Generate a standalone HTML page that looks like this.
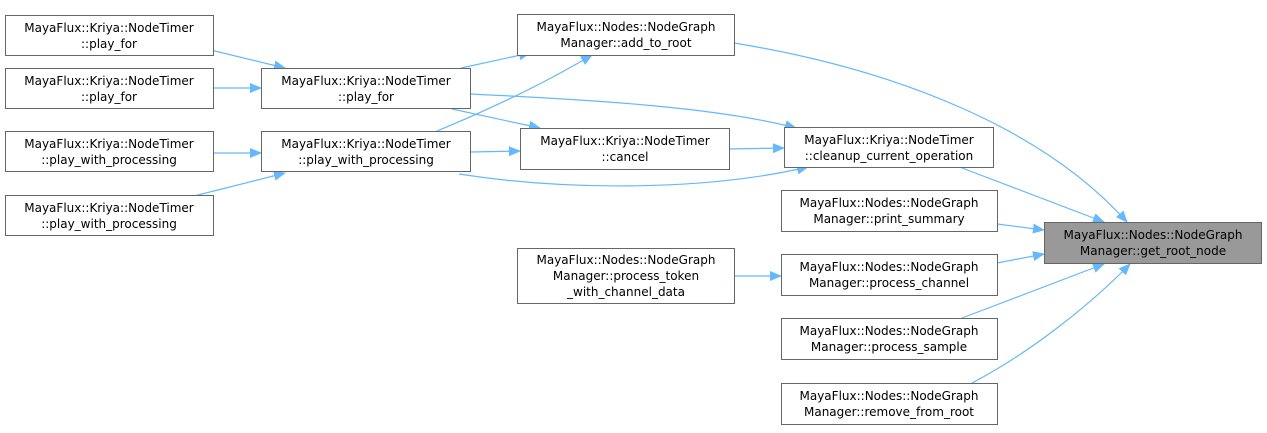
<!DOCTYPE html>
<html><head><meta charset="utf-8"><style>
html,body{margin:0;padding:0;background:#fff;}
svg text{font-family:"DejaVu Sans","Liberation Sans",sans-serif;font-size:12px;fill:#000;text-anchor:middle;}
</style></head><body>
<svg width="1267" height="428" viewBox="0 0 1267 428" xmlns="http://www.w3.org/2000/svg">
<defs>
<marker id="a" markerWidth="12" markerHeight="10" refX="11" refY="5" orient="auto" markerUnits="userSpaceOnUse">
<path d="M0,0 L12,5 L0,10 z" fill="#63b8ff"/>
</marker>
</defs>
<g fill="none" stroke="#63b8ff" stroke-width="1.2" marker-end="url(#a)">
<path d="M190,45 L285,68"/>
<path d="M213,88 L261,88"/>
<path d="M213,153 L261,153"/>
<path d="M190,197 L285,173"/>
<path d="M461,68 L530,53"/>
<path d="M437,131 C500,105 550,80 592,55"/>
<path d="M470,94 C600,100 720,108 796,128"/>
<path d="M452,109 L540,128"/>
<path d="M470,152 L520,151"/>
<path d="M459,174 C560,190 700,192 808,167"/>
<path d="M729,149 L784,148"/>
<path d="M734,43 C900,70 1045,130 1127,222"/>
<path d="M962,168 L1104,222"/>
<path d="M997,224 L1044,230"/>
<path d="M997,263 L1044,254"/>
<path d="M962,318 L1104,264"/>
<path d="M972,383 C1035,350 1095,300 1130,264"/>
<path d="M734,276 L781,276"/>
</g>
<g stroke="#666" stroke-width="1" fill="#fff">
<rect x="5.5" y="15.5" width="208" height="40"/>
<rect x="5.5" y="68.5" width="208" height="40"/>
<rect x="5.5" y="131.5" width="208" height="40"/>
<rect x="5.5" y="195.5" width="208" height="40"/>
<rect x="261.5" y="68.5" width="209" height="40"/>
<rect x="261.5" y="131.5" width="209" height="40"/>
<rect x="517.5" y="14.5" width="217" height="41"/>
<rect x="520.5" y="128.5" width="209" height="41"/>
<rect x="517.5" y="248.5" width="217" height="55"/>
<rect x="784.5" y="127.5" width="209" height="40"/>
<rect x="781.5" y="190.5" width="216" height="41"/>
<rect x="781.5" y="254.5" width="216" height="41"/>
<rect x="781.5" y="318.5" width="216" height="41"/>
<rect x="781.5" y="383.5" width="216" height="41"/>
<rect x="1044.5" y="222.5" width="217" height="41" fill="#999"/>
</g>
<text x="109" y="32">MayaFlux::Kriya::NodeTimer</text><text x="109" y="48">::play_for</text>
<text x="109" y="85">MayaFlux::Kriya::NodeTimer</text><text x="109" y="101">::play_for</text>
<text x="109" y="148">MayaFlux::Kriya::NodeTimer</text><text x="109" y="164">::play_with_processing</text>
<text x="109" y="212">MayaFlux::Kriya::NodeTimer</text><text x="109" y="228">::play_with_processing</text>
<text x="366" y="85">MayaFlux::Kriya::NodeTimer</text><text x="366" y="101">::play_for</text>
<text x="366" y="148">MayaFlux::Kriya::NodeTimer</text><text x="366" y="164">::play_with_processing</text>
<text x="626" y="31">MayaFlux::Nodes::NodeGraph</text><text x="626" y="47">Manager::add_to_root</text>
<text x="625" y="145">MayaFlux::Kriya::NodeTimer</text><text x="625" y="161">::cancel</text>
<text x="626" y="264">MayaFlux::Nodes::NodeGraph</text><text x="626" y="280">Manager::process_token</text><text x="626" y="296">_with_channel_data</text>
<text x="889" y="144">MayaFlux::Kriya::NodeTimer</text><text x="889" y="160">::cleanup_current_operation</text>
<text x="889" y="207">MayaFlux::Nodes::NodeGraph</text><text x="889" y="223">Manager::print_summary</text>
<text x="889" y="271">MayaFlux::Nodes::NodeGraph</text><text x="889" y="287">Manager::process_channel</text>
<text x="889" y="335">MayaFlux::Nodes::NodeGraph</text><text x="889" y="351">Manager::process_sample</text>
<text x="889" y="400">MayaFlux::Nodes::NodeGraph</text><text x="889" y="416">Manager::remove_from_root</text>
<text x="1153" y="239">MayaFlux::Nodes::NodeGraph</text><text x="1153" y="255">Manager::get_root_node</text>
</svg>
</body></html>
